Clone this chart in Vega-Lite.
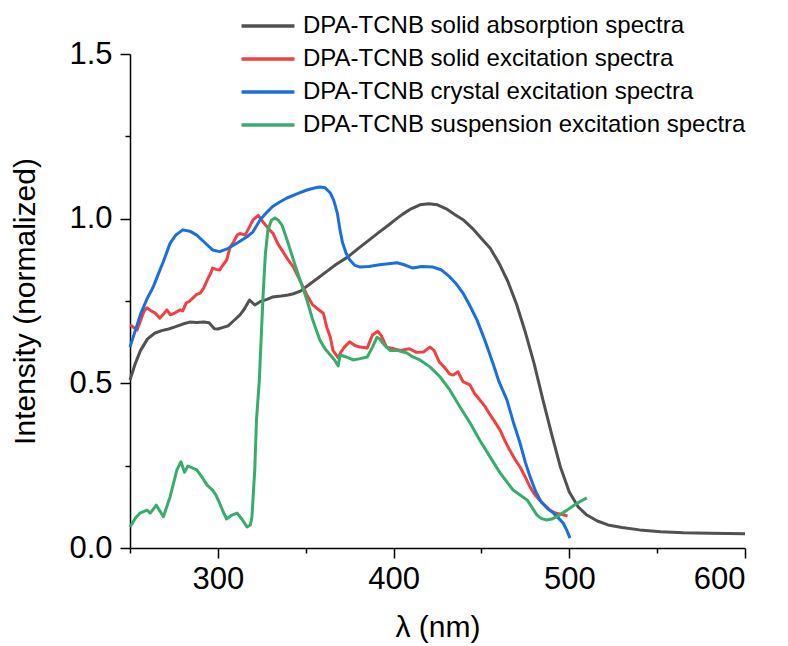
{
"$schema": "https://vega.github.io/schema/vega-lite/v6.json",
"width": 615, "height": 494,
"autosize": {"type": "none"},
"padding": {"left": 130, "top": 54, "right": 43, "bottom": 98},
"background": "white",
"config": {
 "view": {"stroke": null},
 "font": "Liberation Sans",
 "axis": {"grid": false, "domainColor": "black", "tickColor": "black", "labelColor": "black", "titleColor": "black", "domainWidth": 1.5, "tickWidth": 1.5, "labelFont": "Liberation Sans", "titleFont": "Liberation Sans", "labelFontSize": 31, "titleFontSize": 30, "titleFontWeight": "normal"}
},
"layer": [
 {
  "data": {"values": [
{"s":"abs","x":250,"y":0.51},{"s":"abs","x":253,"y":0.56},{"s":"abs","x":256,"y":0.6},{"s":"abs","x":260,"y":0.635},{"s":"abs","x":264,"y":0.652},{"s":"abs","x":268,"y":0.66},{"s":"abs","x":272,"y":0.665},{"s":"abs","x":276,"y":0.672},{"s":"abs","x":280,"y":0.68},{"s":"abs","x":284,"y":0.686},{"s":"abs","x":288,"y":0.685},{"s":"abs","x":292,"y":0.686},{"s":"abs","x":295,"y":0.684},{"s":"abs","x":298,"y":0.666},{"s":"abs","x":300,"y":0.665},{"s":"abs","x":303,"y":0.67},{"s":"abs","x":306,"y":0.675},{"s":"abs","x":309,"y":0.69},{"s":"abs","x":312.6,"y":0.708},{"s":"abs","x":315,"y":0.725},{"s":"abs","x":318,"y":0.753},{"s":"abs","x":321,"y":0.738},{"s":"abs","x":324,"y":0.748},{"s":"abs","x":328,"y":0.755},{"s":"abs","x":331,"y":0.762},{"s":"abs","x":336,"y":0.765},{"s":"abs","x":340,"y":0.768},{"s":"abs","x":343,"y":0.772},{"s":"abs","x":347,"y":0.78},{"s":"abs","x":352,"y":0.8},{"s":"abs","x":357,"y":0.82},{"s":"abs","x":362,"y":0.84},{"s":"abs","x":367,"y":0.86},{"s":"abs","x":374,"y":0.884},{"s":"abs","x":380,"y":0.91},{"s":"abs","x":386,"y":0.935},{"s":"abs","x":392,"y":0.96},{"s":"abs","x":397,"y":0.98},{"s":"abs","x":401,"y":0.997},{"s":"abs","x":405,"y":1.013},{"s":"abs","x":410,"y":1.03},{"s":"abs","x":415,"y":1.042},{"s":"abs","x":420,"y":1.045},{"s":"abs","x":425,"y":1.042},{"s":"abs","x":430,"y":1.03},{"s":"abs","x":435,"y":1.012},{"s":"abs","x":440,"y":0.995},{"s":"abs","x":445,"y":0.97},{"s":"abs","x":450,"y":0.94},{"s":"abs","x":455,"y":0.91},{"s":"abs","x":460,"y":0.865},{"s":"abs","x":465,"y":0.81},{"s":"abs","x":470,"y":0.74},{"s":"abs","x":475,"y":0.655},{"s":"abs","x":480,"y":0.56},{"s":"abs","x":485,"y":0.45},{"s":"abs","x":490,"y":0.345},{"s":"abs","x":495,"y":0.245},{"s":"abs","x":500,"y":0.17},{"s":"abs","x":505,"y":0.125},{"s":"abs","x":510,"y":0.1},{"s":"abs","x":516,"y":0.082},{"s":"abs","x":522,"y":0.07},{"s":"abs","x":530,"y":0.062},{"s":"abs","x":540,"y":0.055},{"s":"abs","x":552,"y":0.049},{"s":"abs","x":565,"y":0.046},{"s":"abs","x":580,"y":0.045},{"s":"abs","x":590,"y":0.044},{"s":"abs","x":600,"y":0.043},
{"s":"solid","x":250,"y":0.677},{"s":"solid","x":252,"y":0.67},{"s":"solid","x":254,"y":0.662},{"s":"solid","x":256,"y":0.69},{"s":"solid","x":258,"y":0.72},{"s":"solid","x":259.7,"y":0.729},{"s":"solid","x":262,"y":0.72},{"s":"solid","x":264,"y":0.715},{"s":"solid","x":267,"y":0.698},{"s":"solid","x":269,"y":0.71},{"s":"solid","x":271,"y":0.723},{"s":"solid","x":273,"y":0.708},{"s":"solid","x":275,"y":0.712},{"s":"solid","x":278.5,"y":0.723},{"s":"solid","x":280,"y":0.72},{"s":"solid","x":282,"y":0.744},{"s":"solid","x":284,"y":0.75},{"s":"solid","x":286,"y":0.76},{"s":"solid","x":288,"y":0.77},{"s":"solid","x":290,"y":0.774},{"s":"solid","x":292,"y":0.79},{"s":"solid","x":294,"y":0.814},{"s":"solid","x":296,"y":0.835},{"s":"solid","x":297,"y":0.85},{"s":"solid","x":299,"y":0.846},{"s":"solid","x":301,"y":0.844},{"s":"solid","x":303,"y":0.86},{"s":"solid","x":305,"y":0.874},{"s":"solid","x":307,"y":0.914},{"s":"solid","x":309,"y":0.93},{"s":"solid","x":311,"y":0.95},{"s":"solid","x":312.6,"y":0.955},{"s":"solid","x":315.5,"y":0.95},{"s":"solid","x":318,"y":0.975},{"s":"solid","x":320,"y":0.996},{"s":"solid","x":323,"y":1.01},{"s":"solid","x":325.7,"y":0.99},{"s":"solid","x":328,"y":0.975},{"s":"solid","x":331.4,"y":0.955},{"s":"solid","x":334,"y":0.925},{"s":"solid","x":337,"y":0.9},{"s":"solid","x":340,"y":0.875},{"s":"solid","x":343,"y":0.853},{"s":"solid","x":346,"y":0.82},{"s":"solid","x":348.5,"y":0.793},{"s":"solid","x":351,"y":0.765},{"s":"solid","x":354,"y":0.738},{"s":"solid","x":357,"y":0.725},{"s":"solid","x":360,"y":0.713},{"s":"solid","x":362,"y":0.67},{"s":"solid","x":364,"y":0.64},{"s":"solid","x":365.5,"y":0.6},{"s":"solid","x":368.5,"y":0.577},{"s":"solid","x":370,"y":0.595},{"s":"solid","x":372,"y":0.61},{"s":"solid","x":375,"y":0.626},{"s":"solid","x":378,"y":0.615},{"s":"solid","x":381,"y":0.61},{"s":"solid","x":385,"y":0.607},{"s":"solid","x":388,"y":0.647},{"s":"solid","x":391,"y":0.658},{"s":"solid","x":393,"y":0.645},{"s":"solid","x":396,"y":0.61},{"s":"solid","x":400,"y":0.605},{"s":"solid","x":404,"y":0.6},{"s":"solid","x":409,"y":0.605},{"s":"solid","x":413,"y":0.594},{"s":"solid","x":417,"y":0.595},{"s":"solid","x":420.7,"y":0.61},{"s":"solid","x":423,"y":0.6},{"s":"solid","x":426,"y":0.565},{"s":"solid","x":429,"y":0.548},{"s":"solid","x":432,"y":0.528},{"s":"solid","x":434,"y":0.525},{"s":"solid","x":436.7,"y":0.535},{"s":"solid","x":439.5,"y":0.505},{"s":"solid","x":443.5,"y":0.495},{"s":"solid","x":446,"y":0.47},{"s":"solid","x":449,"y":0.45},{"s":"solid","x":452,"y":0.43},{"s":"solid","x":455,"y":0.404},{"s":"solid","x":458,"y":0.38},{"s":"solid","x":460.6,"y":0.358},{"s":"solid","x":463,"y":0.33},{"s":"solid","x":466,"y":0.298},{"s":"solid","x":469,"y":0.27},{"s":"solid","x":472,"y":0.246},{"s":"solid","x":475,"y":0.215},{"s":"solid","x":477.7,"y":0.185},{"s":"solid","x":480,"y":0.165},{"s":"solid","x":483,"y":0.146},{"s":"solid","x":486,"y":0.13},{"s":"solid","x":489,"y":0.115},{"s":"solid","x":492,"y":0.106},{"s":"solid","x":494.7,"y":0.103},{"s":"solid","x":497,"y":0.1},{"s":"solid","x":499,"y":0.097},
{"s":"crystal","x":250,"y":0.61},{"s":"crystal","x":253,"y":0.66},{"s":"crystal","x":256,"y":0.71},{"s":"crystal","x":260,"y":0.76},{"s":"crystal","x":263,"y":0.79},{"s":"crystal","x":266,"y":0.83},{"s":"crystal","x":269,"y":0.87},{"s":"crystal","x":272.8,"y":0.925},{"s":"crystal","x":276,"y":0.95},{"s":"crystal","x":280,"y":0.966},{"s":"crystal","x":284,"y":0.962},{"s":"crystal","x":288,"y":0.95},{"s":"crystal","x":292,"y":0.93},{"s":"crystal","x":297,"y":0.905},{"s":"crystal","x":301,"y":0.9},{"s":"crystal","x":306,"y":0.91},{"s":"crystal","x":311,"y":0.926},{"s":"crystal","x":316.6,"y":0.945},{"s":"crystal","x":320,"y":0.96},{"s":"crystal","x":324,"y":0.996},{"s":"crystal","x":328,"y":1.02},{"s":"crystal","x":331,"y":1.036},{"s":"crystal","x":335,"y":1.05},{"s":"crystal","x":339,"y":1.062},{"s":"crystal","x":345,"y":1.075},{"s":"crystal","x":350.7,"y":1.087},{"s":"crystal","x":355,"y":1.093},{"s":"crystal","x":358,"y":1.096},{"s":"crystal","x":361,"y":1.094},{"s":"crystal","x":364,"y":1.078},{"s":"crystal","x":366,"y":1.055},{"s":"crystal","x":368,"y":1.017},{"s":"crystal","x":369.5,"y":0.966},{"s":"crystal","x":371,"y":0.926},{"s":"crystal","x":373,"y":0.895},{"s":"crystal","x":375,"y":0.875},{"s":"crystal","x":378,"y":0.858},{"s":"crystal","x":381,"y":0.853},{"s":"crystal","x":386,"y":0.855},{"s":"crystal","x":392,"y":0.86},{"s":"crystal","x":397,"y":0.863},{"s":"crystal","x":402,"y":0.866},{"s":"crystal","x":406,"y":0.86},{"s":"crystal","x":411,"y":0.85},{"s":"crystal","x":416,"y":0.855},{"s":"crystal","x":422.5,"y":0.853},{"s":"crystal","x":427,"y":0.845},{"s":"crystal","x":432,"y":0.823},{"s":"crystal","x":436,"y":0.8},{"s":"crystal","x":439.5,"y":0.774},{"s":"crystal","x":443,"y":0.74},{"s":"crystal","x":447.5,"y":0.692},{"s":"crystal","x":452,"y":0.63},{"s":"crystal","x":456.6,"y":0.56},{"s":"crystal","x":460,"y":0.505},{"s":"crystal","x":464.5,"y":0.45},{"s":"crystal","x":468,"y":0.385},{"s":"crystal","x":472,"y":0.318},{"s":"crystal","x":475,"y":0.26},{"s":"crystal","x":477.7,"y":0.216},{"s":"crystal","x":481,"y":0.17},{"s":"crystal","x":484,"y":0.14},{"s":"crystal","x":488,"y":0.118},{"s":"crystal","x":491,"y":0.106},{"s":"crystal","x":494,"y":0.09},{"s":"crystal","x":496.5,"y":0.076},{"s":"crystal","x":498.5,"y":0.055},{"s":"crystal","x":500.4,"y":0.03},
{"s":"susp","x":250,"y":0.064},{"s":"susp","x":253,"y":0.09},{"s":"susp","x":255.7,"y":0.106},{"s":"susp","x":259.7,"y":0.115},{"s":"susp","x":261.5,"y":0.106},{"s":"susp","x":265,"y":0.13},{"s":"susp","x":269,"y":0.095},{"s":"susp","x":272.8,"y":0.155},{"s":"susp","x":276.7,"y":0.237},{"s":"susp","x":279,"y":0.262},{"s":"susp","x":281,"y":0.23},{"s":"susp","x":283,"y":0.249},{"s":"susp","x":288,"y":0.237},{"s":"susp","x":291,"y":0.215},{"s":"susp","x":294,"y":0.19},{"s":"susp","x":297,"y":0.176},{"s":"susp","x":299,"y":0.16},{"s":"susp","x":301,"y":0.136},{"s":"susp","x":303,"y":0.11},{"s":"susp","x":305,"y":0.088},{"s":"susp","x":308,"y":0.1},{"s":"susp","x":311,"y":0.106},{"s":"susp","x":314,"y":0.085},{"s":"susp","x":316.6,"y":0.064},{"s":"susp","x":318.5,"y":0.07},{"s":"susp","x":319.4,"y":0.095},{"s":"susp","x":321,"y":0.237},{"s":"susp","x":322,"y":0.39},{"s":"susp","x":323.6,"y":0.51},{"s":"susp","x":325.7,"y":0.762},{"s":"susp","x":327,"y":0.89},{"s":"susp","x":328.5,"y":0.966},{"s":"susp","x":330.5,"y":0.995},{"s":"susp","x":332.5,"y":1.002},{"s":"susp","x":334.5,"y":0.995},{"s":"susp","x":336.5,"y":0.98},{"s":"susp","x":339.4,"y":0.935},{"s":"susp","x":343,"y":0.875},{"s":"susp","x":346.8,"y":0.814},{"s":"susp","x":350.7,"y":0.753},{"s":"susp","x":354,"y":0.692},{"s":"susp","x":358,"y":0.632},{"s":"susp","x":361,"y":0.605},{"s":"susp","x":364,"y":0.586},{"s":"susp","x":366.5,"y":0.57},{"s":"susp","x":368.5,"y":0.553},{"s":"susp","x":369.5,"y":0.586},{"s":"susp","x":373,"y":0.58},{"s":"susp","x":377,"y":0.571},{"s":"susp","x":381,"y":0.575},{"s":"susp","x":385,"y":0.58},{"s":"susp","x":388,"y":0.61},{"s":"susp","x":390.6,"y":0.64},{"s":"susp","x":392,"y":0.635},{"s":"susp","x":395,"y":0.615},{"s":"susp","x":398,"y":0.6},{"s":"susp","x":402,"y":0.6},{"s":"susp","x":407.6,"y":0.592},{"s":"susp","x":411,"y":0.58},{"s":"susp","x":415,"y":0.571},{"s":"susp","x":420.7,"y":0.55},{"s":"susp","x":426.4,"y":0.52},{"s":"susp","x":432,"y":0.48},{"s":"susp","x":437.8,"y":0.428},{"s":"susp","x":443.5,"y":0.38},{"s":"susp","x":449,"y":0.328},{"s":"susp","x":455,"y":0.276},{"s":"susp","x":460.6,"y":0.228},{"s":"susp","x":468,"y":0.176},{"s":"susp","x":476,"y":0.146},{"s":"susp","x":481.6,"y":0.1},{"s":"susp","x":484,"y":0.09},{"s":"susp","x":487,"y":0.085},{"s":"susp","x":490,"y":0.088},{"s":"susp","x":493,"y":0.095},{"s":"susp","x":498.7,"y":0.115},{"s":"susp","x":504.4,"y":0.136},{"s":"susp","x":510,"y":0.152}
  ]},
  "mark": {"type": "line", "strokeWidth": 3, "strokeJoin": "round"},
  "encoding": {
   "x": {"field": "x", "type": "quantitative", "scale": {"domain": [250, 600], "nice": false, "zero": false},
     "axis": {"values": [300, 400, 500, 600], "format": "d", "tickSize": 10, "labelPadding": 6, "title": "λ (nm)", "titlePadding": 18}},
   "y": {"field": "y", "type": "quantitative", "scale": {"domain": [0, 1.5], "nice": false},
     "axis": {"values": [0, 0.5, 1, 1.5], "format": ".1f", "tickSize": 10, "labelPadding": 8, "title": "Intensity (normalized)", "titlePadding": 28}},
   "color": {"field": "s", "type": "nominal",
     "scale": {"domain": ["abs", "solid", "crystal", "susp"], "range": ["#515151", "#F14040", "#1A6FDF", "#37AD6B"]},
     "legend": {"orient": "none", "legendX": 126, "legendY": -40, "title": null, "labelFont": "Liberation Sans", "labelFontSize": 24, "labelColor": "black", "labelLimit": 0, "symbolType": "M-5,0H5", "symbolSize": 112, "symbolStrokeWidth": 3.5, "rowPadding": 9, "labelOffset": 23,
       "labelExpr": "datum.value == 'abs' ? 'DPA-TCNB solid absorption spectra' : datum.value == 'solid' ? 'DPA-TCNB solid excitation spectra' : datum.value == 'crystal' ? 'DPA-TCNB crystal excitation spectra' : 'DPA-TCNB suspension excitation spectra'"}}
  }
 },
 {
  "data": {"values": [{"x": 250, "y": 0}]},
  "transform": [{"filter": "false"}],
  "mark": {"type": "line"},
  "encoding": {
   "x": {"field": "x", "type": "quantitative", "scale": {"domain": [250, 600], "nice": false, "zero": false},
     "axis": {"orient": "bottom", "values": [250, 350, 450, 550], "tickSize": 5, "labels": false, "domain": false, "title": null}},
   "y": {"field": "y", "type": "quantitative", "scale": {"domain": [0, 1.5], "nice": false},
     "axis": {"orient": "left", "values": [0.25, 0.75, 1.25], "tickSize": 5, "labels": false, "domain": false, "title": null}}
  }
 }
],
"resolve": {"axis": {"x": "independent", "y": "independent"}}
}
